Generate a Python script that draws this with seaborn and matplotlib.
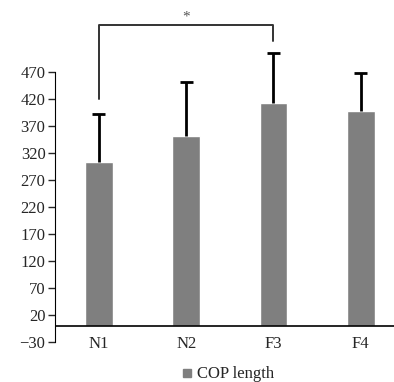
import numpy as np
import pandas as pd
import seaborn as sns
import matplotlib.pyplot as plt

# COP length per condition (mean, upper SD)
groups = ['N1', 'N2', 'F3', 'F4']
means = [303, 351, 413, 398]
sds = [89, 100, 92, 70]
yticks = list(range(-30, 471, 50))

df = pd.DataFrame({'group': groups, 'value': means})

sns.set_style('white')
plt.rcParams['font.family'] = ['Liberation Serif', 'DejaVu Serif']

fig = plt.figure(figsize=(3.94, 3.82), dpi=100)
ax = fig.add_axes([0.14, 0.1047, 0.86, 0.89])

sns.barplot(data=df, x='group', y='value', color='#7f7f7f', saturation=1,
            width=0.32, errorbar=None, ax=ax)

# one-sided (upper) error bars
xs = np.arange(len(groups))
tops = np.array(means) + np.array(sds)
ax.vlines(xs, means, tops, color='black', lw=2)
ax.hlines(tops, xs - 0.075, xs + 0.075, color='black', lw=2)

ax.axhline(0, color='black', lw=1.2, zorder=5)

# significance bracket
ax.plot([0, 0, 2, 2], [420, 557, 557, 527], color='#333333', lw=1.4, clip_on=False)
ax.text(1, 572, '*', ha='center', va='center', fontsize=11, color='#555555')

ax.set_xlim(-0.5, 3.38)
ax.set_ylim(-30, 599.6)
ax.set_yticks(yticks)
ax.set_yticklabels(['\u221230' if t < 0 else str(t) for t in yticks], fontsize=12)
ax.set_xlabel('')
ax.set_ylabel('')
ax.tick_params(axis='x', length=0, pad=-4, labelsize=12)
ax.tick_params(axis='y', length=5, width=1, direction='out', left=True, pad=2)
for s in ['top', 'right', 'bottom']:
    ax.spines[s].set_visible(False)
ax.spines['left'].set_bounds(-30, 470)
ax.spines['left'].set_color('black')

fig.legend(handles=[plt.Line2D([], [], marker='s', ls='', color='#7f7f7f', markersize=6)],
           labels=['COP length'], loc='center left', bbox_to_anchor=(0.41, 0.02),
           frameon=False, fontsize=12, handletextpad=0.0, handlelength=1.2)

fig.savefig('out.png', dpi=100)
